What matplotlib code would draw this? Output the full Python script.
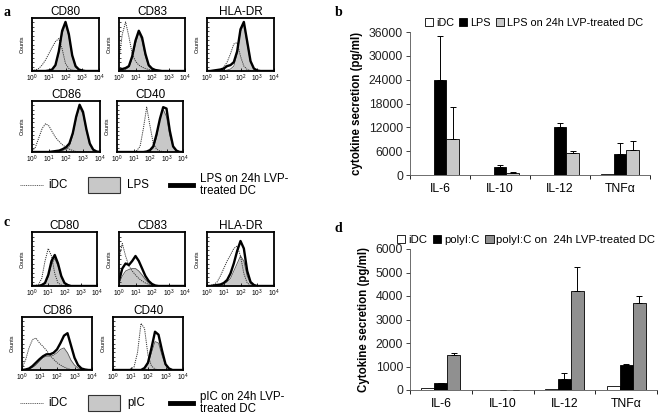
import numpy as np
import matplotlib
matplotlib.use("Agg")
import matplotlib.pyplot as plt
from matplotlib.patches import Patch

plt.rcParams['font.family'] = ['Liberation Sans', 'DejaVu Sans']

W, H = 661, 417

# ---- flow cytometry histograms (log10 fluorescence grid 0..4, step 0.2) ----
log_grid = [0.0, 0.2, 0.4, 0.6, 0.8, 1.0, 1.2, 1.4, 1.6, 1.8, 2.0,
            2.2, 2.4, 2.6, 2.8, 3.0, 3.2, 3.4, 3.6, 3.8, 4.0]

# panel a: iDC (dotted), LPS (filled), LPS on LVP-treated DC (thick)
a_idc = {
    "CD80":   [0, .02, .05, .12, .22, .35, .48, .60, .66, .45, .15, .05, .02, .01, 0, 0, 0, 0, 0, 0, 0],
    "CD83":   [.25, .75, 1.0, .70, .35, .20, .12, .08, .05, .03, .02, .01, 0, 0, 0, 0, 0, 0, 0, 0, 0],
    "HLA-DR": [0, 0, 0, .01, .03, .08, .18, .35, .55, .58, .30, .10, .03, .01, 0, 0, 0, 0, 0, 0, 0],
    "CD86":   [.02, .10, .30, .50, .60, .55, .42, .30, .22, .15, .10, .06, .03, .01, 0, 0, 0, 0, 0, 0, 0],
    "CD40":   [0, 0, 0, 0, 0, .01, .03, .12, .50, .95, .55, .18, .06, .02, .01, 0, 0, 0, 0, 0, 0],
}
a_lps = {
    "CD80":   [0, 0, 0, 0, 0, .01, .03, .10, .35, .75, .95, .70, .30, .08, .02, 0, 0, 0, 0, 0, 0],
    "CD83":   [0, .01, .03, .08, .25, .55, .78, .62, .30, .10, .04, .02, 0, 0, 0, 0, 0, 0, 0, 0, 0],
    "HLA-DR": [0, 0, 0, 0, 0, .01, .02, .04, .10, .35, .80, .95, .55, .18, .04, .01, 0, 0, 0, 0, 0],
    "CD86":   [0, 0, 0, 0, 0, 0, 0, 0, .01, .03, .06, .12, .35, .70, .95, .80, .45, .15, .04, .01, 0],
    "CD40":   [0, 0, 0, 0, 0, 0, 0, 0, 0, 0, .02, .08, .30, .70, .90, .75, .35, .10, .02, 0, 0],
}
a_lvp = {
    "CD80":   [0, 0, 0, 0, 0, .01, .03, .12, .40, .82, 1.0, .75, .32, .10, .03, .01, 0, 0, 0, 0, 0],
    "CD83":   [.03, .04, .06, .10, .30, .62, .82, .68, .35, .12, .05, .02, .01, 0, 0, 0, 0, 0, 0, 0, 0],
    "HLA-DR": [0, 0, .01, .02, .03, .05, .10, .12, .18, .40, .85, 1.0, .60, .20, .05, .01, 0, 0, 0, 0, 0],
    "CD86":   [0, 0, 0, 0, 0, 0, .01, .02, .03, .06, .10, .18, .40, .75, 1.0, .85, .48, .18, .05, .01, 0],
    "CD40":   [0, 0, 0, 0, 0, 0, 0, 0, 0, .01, .04, .12, .38, .70, .95, .92, .45, .12, .03, 0, 0],
}

# panel c: iDC (dotted), pIC (filled), pIC on LVP-treated DC (thick)
c_idc = {
    "CD80":   [0, .01, .03, .15, .50, .75, .60, .25, .06, .02, 0, 0, 0, 0, 0, 0, 0, 0, 0, 0, 0],
    "CD83":   [.55, .85, .60, .40, .30, .22, .15, .10, .06, .03, .01, 0, 0, 0, 0, 0, 0, 0, 0, 0, 0],
    "HLA-DR": [0, .01, .03, .08, .20, .35, .50, .62, .75, .80, .60, .25, .06, .01, 0, 0, 0, 0, 0, 0, 0],
    "CD86":   [.05, .20, .45, .62, .65, .55, .48, .40, .30, .22, .15, .10, .06, .03, .01, 0, 0, 0, 0, 0, 0],
    "CD40":   [0, 0, 0, 0, 0, .02, .06, .35, .95, .85, .30, .08, .02, 0, 0, 0, 0, 0, 0, 0, 0],
}
c_pic = {
    "CD80":   [0, 0, 0, .01, .05, .18, .42, .55, .40, .18, .05, .01, 0, 0, 0, 0, 0, 0, 0, 0, 0],
    "CD83":   [.05, .20, .30, .33, .35, .35, .30, .22, .13, .06, .02, .01, 0, 0, 0, 0, 0, 0, 0, 0, 0],
    "HLA-DR": [0, 0, 0, .01, .02, .04, .08, .15, .30, .45, .60, .50, .20, .05, .01, 0, 0, 0, 0, 0, 0],
    "CD86":   [0, .01, .02, .05, .10, .18, .25, .28, .28, .30, .35, .42, .45, .35, .20, .10, .04, .01, 0, 0, 0],
    "CD40":   [0, 0, 0, 0, 0, 0, 0, 0, 0, .03, .12, .35, .58, .55, .30, .10, .02, 0, 0, 0, 0],
}
c_lvp = {
    "CD80":   [0, 0, 0, .02, .06, .22, .50, .62, .45, .20, .06, .02, 0, 0, 0, 0, 0, 0, 0, 0, 0],
    "CD83":   [.10, .35, .45, .42, .50, .60, .50, .35, .20, .10, .04, .01, 0, 0, 0, 0, 0, 0, 0, 0, 0],
    "HLA-DR": [0, 0, .01, .02, .03, .06, .12, .25, .45, .70, .90, .75, .30, .08, .02, 0, 0, 0, 0, 0, 0],
    "CD86":   [0, .01, .03, .08, .15, .22, .28, .32, .32, .35, .42, .55, .70, .75, .50, .25, .10, .03, .01, 0, 0],
    "CD40":   [0, 0, 0, 0, 0, 0, 0, 0, 0, .04, .15, .45, .78, .72, .40, .12, .03, 0, 0, 0, 0],
}

# ---- cytokine ELISA ----
cytokines = ["IL-6", "IL-10", "IL-12", "TNF\u03b1"]

b_idc = [100, 50, 50, 300]
b_lps = [24000, 1900, 12200, 5300]
b_lps_err = [11000, 500, 800, 2700]
b_lvp = [9000, 600, 5600, 6200]
b_lvp_err = [8000, 200, 500, 2400]

d_idc = [70, 0, 60, 180]
d_pic = [280, 0, 450, 1080]
d_pic_err = [20, 0, 270, 30]
d_lvp = [1470, 0, 4200, 3700]
d_lvp_err = [120, 0, 1050, 280]


def px_axes(fig, x0, y0, x1, y1):
    return fig.add_axes([x0 / W, 1 - y1 / H, (x1 - x0) / W, (y1 - y0) / H])


def histo(ax, name, idc, filled, thick):
    x = 10 ** np.array(log_grid)
    ax.fill_between(x, filled, color="#c8c8c8", lw=0)
    ax.plot(x, filled, color="#555555", lw=0.6)
    ax.plot(x, idc, color="#333333", lw=0.7, ls=(0, (1.2, 1.0)))
    ax.plot(x, thick, color="black", lw=1.7)
    ax.set_xscale("log")
    ax.set_xlim(1, 1e4)
    ax.set_ylim(0, 1.08)
    ax.set_xticks([1, 10, 100, 1000, 10000])
    ax.tick_params(axis="x", which="major", direction="in", length=2, width=0.6,
                   labelsize=4.8, pad=1.5)
    ax.tick_params(axis="x", which="minor", direction="in", length=1, width=0.4)
    ax.set_yticks(np.linspace(0, 1.08, 13)[1:-1])
    ax.set_yticklabels([])
    ax.tick_params(axis="y", direction="in", length=1.5, width=0.5)
    ax.set_ylabel("Counts", fontsize=4, labelpad=1.5)
    for s in ax.spines.values():
        s.set_linewidth(1.3)
    ax.set_title(name, fontsize=8.5, pad=2.5)


def fcs_panel(fig, boxes, idc, filled, thick):
    for name, box in boxes.items():
        ax = px_axes(fig, *box)
        histo(ax, name, idc[name], filled[name], thick[name])


def fcs_legend(fig, y, fill_lbl, thick_lbl):
    lax = px_axes(fig, 0, y - 12, 330, y + 12)
    lax.set_xlim(0, 330)
    lax.set_ylim(12, -12)
    lax.axis("off")
    lax.plot([20, 43], [0, 0], color="#444444", lw=0.6, ls=(0, (1.2, 1.0)))
    lax.text(48, 0, "iDC", fontsize=8.3, va="center")
    lax.add_patch(plt.Rectangle((88, -8), 32, 16, facecolor="#c8c8c8",
                                edgecolor="#333333", lw=0.8))
    lax.text(127, 0, fill_lbl, fontsize=8.3, va="center")
    lax.plot([170, 193], [0, 0], color="black", lw=3.5)
    lax.text(200, 0, thick_lbl, fontsize=8.3, va="center", linespacing=1.0)


def bar_panel(fig, box, idc, mid, mid_err, lvp, lvp_err, gray, ymax, ystep,
              ylabel, labels, leg_xy, leg_fs):
    ax = px_axes(fig, *box)
    x = np.arange(len(cytokines))
    w = 0.21
    ax.bar(x - w, idc, w, color="white", edgecolor="black", lw=0.6)
    ax.bar(x, mid, w, color="black", edgecolor="black", lw=0.6)
    ax.bar(x + w, lvp, w, color=gray, edgecolor="black", lw=0.6)
    ax.errorbar(x, mid, yerr=[np.zeros(len(x)), mid_err], fmt="none",
                ecolor="black", elinewidth=0.7, capsize=2, capthick=0.7)
    ax.errorbar(x + w, lvp, yerr=[np.zeros(len(x)), lvp_err], fmt="none",
                ecolor="black", elinewidth=0.7, capsize=2, capthick=0.7)
    ax.set_xlim(-0.5, len(x) - 0.5)
    ax.set_ylim(0, ymax)
    ax.set_yticks(np.arange(0, ymax + 1, ystep))
    ax.tick_params(axis="y", direction="out", length=3, width=0.6,
                   labelsize=8.8, pad=2, colors="#222222")
    ax.set_xticks(np.arange(len(x) + 1) - 0.5)
    ax.set_xticklabels([])
    ax.tick_params(axis="x", which="major", direction="out", length=3, width=0.6)
    ax.set_xticks(x, minor=True)
    ax.set_xticklabels(cytokines, minor=True, fontsize=8.8)
    ax.tick_params(axis="x", which="minor", length=0, pad=6)
    for s in ["top", "right"]:
        ax.spines[s].set_visible(False)
    for s in ["left", "bottom"]:
        ax.spines[s].set_linewidth(0.6)
        ax.spines[s].set_color("#555555")
    ax.set_ylabel(ylabel, fontsize=8.3, fontweight="bold", labelpad=4)
    handles = [Patch(facecolor="white", edgecolor="black", lw=0.6),
               Patch(facecolor="black", edgecolor="black", lw=0.6),
               Patch(facecolor=gray, edgecolor="black", lw=0.6)]
    fig.legend(handles, labels, loc="center",
               bbox_to_anchor=(leg_xy[0] / W, 1 - leg_xy[1] / H), ncol=3,
               frameon=False, fontsize=leg_fs, handlelength=0.75, handleheight=0.75,
               handletextpad=0.25, columnspacing=0.5, borderpad=0)
    return ax


fig = plt.figure(figsize=(W / 100, H / 100), dpi=100)

fcs_panel(fig, {"CD80": (32, 18, 99, 71), "CD83": (119, 18, 185, 71),
                "HLA-DR": (207, 18, 274, 71), "CD86": (32, 101, 100, 152),
                "CD40": (117, 101, 183, 152)}, a_idc, a_lps, a_lvp)
fcs_legend(fig, 185, "LPS", "LPS on 24h LVP-\ntreated DC")

fcs_panel(fig, {"CD80": (32, 232, 97, 286), "CD83": (119, 232, 185, 286),
                "HLA-DR": (207, 232, 274, 286), "CD86": (22, 317, 92, 370),
                "CD40": (113, 317, 183, 370)}, c_idc, c_pic, c_lvp)
fcs_legend(fig, 403, "pIC", "pIC on 24h LVP-\ntreated DC")

bar_panel(fig, (410, 32, 650, 175), b_idc, b_lps, b_lps_err, b_lvp, b_lvp_err,
          "#c8c8c8", 36000, 6000, "cytokine secretion (pg/ml)",
          ["iDC", "LPS", "LPS on 24h LVP-treated DC"], (534, 23), 7.8)
bar_panel(fig, (410, 249, 657, 390), d_idc, d_pic, d_pic_err, d_lvp, d_lvp_err,
          "#909090", 6000, 1000, "Cytokine secretion (pg/ml)",
          ["iDC", "polyI:C", "polyI:C on  24h LVP-treated DC"], (526, 240), 8.2)

for lbl, (px, py) in {"a": (3, 12), "b": (335, 12), "c": (3, 222), "d": (335, 228)}.items():
    fig.text(px / W, 1 - py / H, lbl, fontsize=10, fontweight="bold",
             family="Liberation Serif", va="center")

fig.savefig("out.png", dpi=100)
